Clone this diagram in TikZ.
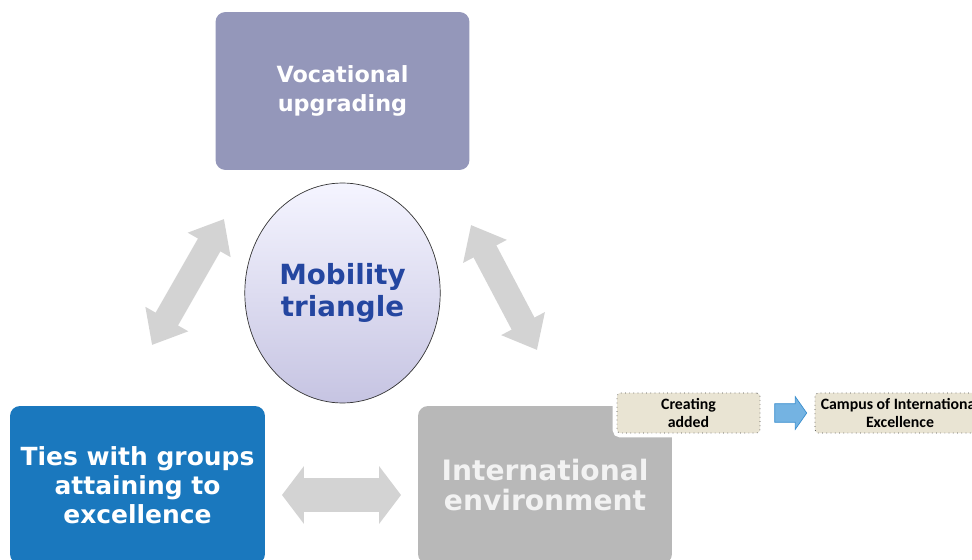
\documentclass[tikz,border=0pt]{standalone}
\usepackage{fontspec}
\setmainfont{DejaVu Sans}
\newfontfamily\notefont{Carlito}
\usetikzlibrary{shapes,arrows.meta,calc}

\definecolor{vocfill}{RGB}{148,151,186}
\definecolor{tiesfill}{RGB}{26,120,190}
\definecolor{intlfill}{RGB}{184,184,184}
\definecolor{mobtext}{RGB}{36,70,160}
\definecolor{linkgray}{RGB}{211,211,211}
\definecolor{notefill}{RGB}{233,228,211}
\definecolor{flowfill}{RGB}{116,179,226}
\definecolor{flowdraw}{RGB}{58,143,206}

\begin{document}
\begin{tikzpicture}[x=0.02cm,y=-0.02cm,
  bigbox/.style={rectangle, rounded corners=0.2cm, minimum width=5.08cm, minimum height=3.16cm,
    align=center, text=white, font=\bfseries\fontsize{12.7}{16.4}\selectfont},
  notebox/.style={rectangle, rounded corners=2pt, draw=black!70, dotted, fill=notefill,
    minimum height=0.76cm, align=center, font=\notefont\bfseries\fontsize{9}{9.8}\selectfont,
    preaction={draw=white, solid, line width=5pt}},
  diaglink/.style={draw=linkgray, line width=14.7pt, {Triangle[length=17pt,width=27pt]}-{Triangle[length=17pt,width=27pt]}},
  flatlink/.style={draw=linkgray, line width=19.3pt, {Triangle[length=12.5pt,width=32.3pt]}-{Triangle[length=12.5pt,width=32.3pt]}}]
\clip (0,0) rectangle (972,560);

\node[bigbox, fill=vocfill] (voc) at (342.5,91) {Vocational\\upgrading};
\node[bigbox, fill=tiesfill, minimum width=5.1cm, font=\bfseries\fontsize{14.2}{16.4}\selectfont] (ties) at (137.5,485) {Ties with groups\\attaining to\\excellence};
\node[bigbox, fill=intlfill, text=white!95!black, font=\bfseries\fontsize{16}{16.6}\selectfont] (intl) at (545,485) {International\\environment};
\node[ellipse, draw=black!80, top color=white!96!blue, bottom color={rgb,255:red,198;green,196;blue,226},
  minimum width=3.9cm, minimum height=4.4cm, align=center, text=mobtext,
  font=\bfseries\fontsize{15.8}{18}\selectfont] (mob) at (342.5,293) {Mobility\\triangle};

% links of the triangle
\coordinate (l1) at (152,345);
\coordinate (l2) at (224,219);
\coordinate (r1) at (471,225);
\coordinate (r2) at (537,350);
\coordinate (b1) at (282,495);
\coordinate (b2) at (401,495);
\draw[diaglink] (l1) -- (l2);
\draw[diaglink] (r1) -- (r2);
\draw[flatlink] (b1) -- (b2);

\node[notebox, minimum width=2.86cm] (create) at (688.5,413) {Creating\\added};
\node[notebox, minimum width=3.4cm] (campus) at (900,413) {Campus of International\\Excellence};
\node[single arrow, draw=flowdraw, fill=flowfill, minimum height=0.64cm, inner sep=5.1pt,
  single arrow head extend=4pt, single arrow tip angle=110] (flow) at ($(create.east)!0.5!(campus.west)$) {};
\end{tikzpicture}
\end{document}
